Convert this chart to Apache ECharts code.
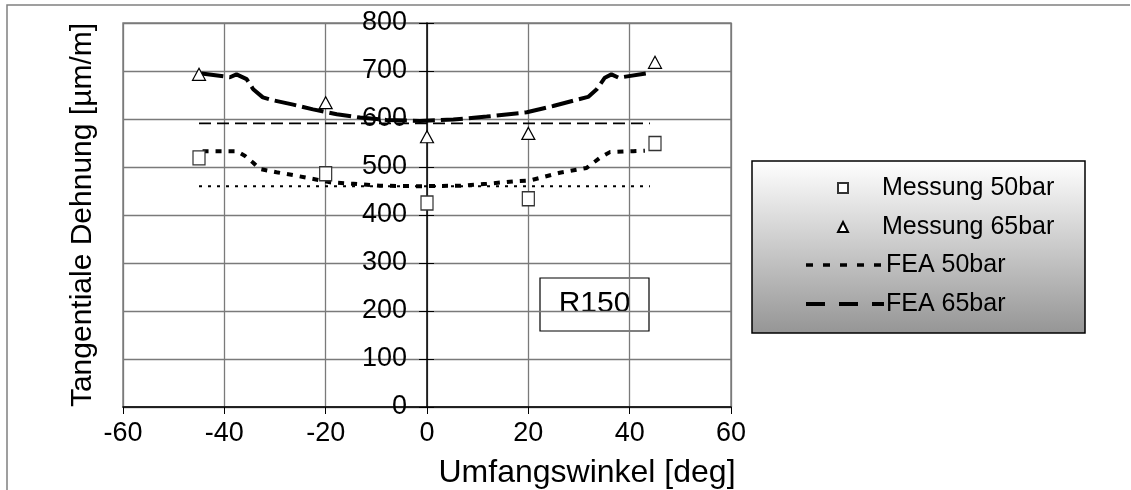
<!DOCTYPE html>
<html>
  <head>
    <meta charset="UTF-8" />
    <title>R150 Tangentiale Dehnung</title>
    <style>
      html, body { margin: 0; padding: 0; background: #fff; }
      #main { width: 1131px; height: 490px; }
    </style>
  </head>
  <body>
    <div id="main"></div>
    <script src="https://cdn.jsdelivr.net/npm/echarts@6/dist/echarts.min.js"></script>
    <script>
      // Messpunkte
      const messWinkel = [-45, -20, 0, 20, 45]
      const mess50 = [519, 486, 425, 434, 549]
      const mess65 = [693, 634, 563, 570, 718]

      // FEA 65bar
      const fea65Winkel = [-44.5, -41, -38.9, -37.6, -35.6, -34.3, -32.4, -30.4, -26.4, -22.5, -17.8, -13.2, -8, -1.4,
        5.2, 11.8, 19.7, 24.9, 29.5, 31.8, 33.5, 35.1, 36.4, 37.8, 43.4]
      const fea65 = [695, 690, 687, 693, 683, 662, 645, 639, 630, 620, 610, 603, 598, 596,
        599, 605, 614, 627, 640, 646, 662, 686, 693, 686, 695]

      // FEA 50bar
      const fea50Winkel = [-44.3, -40.9, -37.6, -35.9, -34.3, -33, -29.7, -26.4, -22.4, -19.1, -14.5, -9.3, -1.4,
        6.5, 11.8, 17, 20.3, 26.2, 31.5, 34.1, 36.1, 40.7, 43]
      const fea50 = [533, 533, 533, 523, 509, 496, 489, 483, 475, 468, 465, 461, 460,
        461, 465, 470, 472, 488, 498, 519, 531, 533, 534]

      // horizontale Referenzlinien
      const refWinkel = [-45, 44]
      const ref65 = [591, 591]
      const ref50 = [460, 460]

      const xTicks = [-60, -40, -20, 0, 20, 40, 60]
      const yTicks = [0, 100, 200, 300, 400, 500, 600, 700, 800]

      const zip = (xs, ys) => xs.map((x, i) => [x, ys[i]])
      const font = 'Liberation Sans, Arial, sans-serif'
      const legendText = { fontSize: 25, lineHeight: 28, fontFamily: font, color: '#000' }

      const myChart = echarts.init(document.getElementById('main'))
      const option = {
        animation: false,
        textStyle: { fontFamily: font, color: '#000' },
        grid: {
          left: 123, right: 400, top: 23, bottom: 83,
          containLabel: false, outerBoundsMode: 'none',
          show: true, borderColor: '#808080', borderWidth: 1.5,
        },
        graphic: [
          {
            type: 'polyline', z: 0,
            shape: { points: [[7, 495], [7, 5], [1130, 5]] },
            style: { stroke: '#808080', lineWidth: 1.5, fill: null },
          },
          {
            type: 'rect', z: 0,
            shape: { x: 752, y: 161, width: 333, height: 172 },
            style: {
              stroke: '#000', lineWidth: 1.5,
              fill: new echarts.graphic.LinearGradient(0, 0, 0, 1, [
                { offset: 0, color: '#ffffff' },
                { offset: 1, color: '#959595' },
              ]),
            },
          },
          {
            type: 'group', z: 10,
            children: [
              {
                type: 'rect',
                shape: { x: 540, y: 278, width: 109, height: 53 },
                style: { fill: '#fff', stroke: '#000', lineWidth: 1.2 },
              },
              {
                type: 'text',
                style: {
                  x: 594.5, y: 304, text: 'R150', fill: '#000',
                  font: '30px ' + font, align: 'center', verticalAlign: 'middle',
                },
              },
            ],
          },
        ],
        legend: [
          {
            orient: 'vertical',
            left: 832, top: 169,
            itemWidth: 10, itemHeight: 10, itemGap: 11,
            textStyle: Object.assign({ padding: [0, 0, 0, 29] }, legendText),
            data: ['Messung 50bar', 'Messung 65bar'],
          },
          {
            orient: 'vertical',
            left: 799, top: 246,
            itemWidth: 78, itemHeight: 10, itemGap: 11,
            textStyle: Object.assign({ padding: [0, 0, 0, -3] }, legendText),
            data: [
              { name: 'FEA 50bar', itemStyle: { opacity: 0 }, lineStyle: { width: 3.5, type: [7, 10] } },
              { name: 'FEA 65bar', itemStyle: { opacity: 0 }, lineStyle: { width: 4, type: [19, 14] } },
            ],
          },
        ],
        xAxis: {
          type: 'value', min: -60, max: 60, interval: 20,
          name: 'Umfangswinkel [deg]', nameLocation: 'middle', nameGap: 50,
          nameTextStyle: { fontSize: 32, padding: [0, 0, 0, 320], color: '#000' },
          axisLine: { onZero: false, lineStyle: { color: '#000', width: 1.5 } },
          axisTick: { length: 7, lineStyle: { color: '#000' } },
          axisLabel: {
            fontSize: 27, margin: 13, color: '#000',
            formatter: (v) => (xTicks.includes(v) ? String(v) : ''),
          },
          splitLine: { lineStyle: { color: '#7a7a7a', width: 1.3 } },
        },
        yAxis: [
          {
            type: 'value', min: 0, max: 800, interval: 100,
            position: 'left', offset: -304,
            name: 'Tangentiale Dehnung [\u00b5m/m]', nameLocation: 'middle', nameGap: 329,
            nameTextStyle: { fontSize: 30, color: '#000' },
            axisLine: { show: true, onZero: false, lineStyle: { color: '#000', width: 1.5 } },
            axisTick: { show: true, length: 8, lineStyle: { color: '#000' } },
            axisLabel: {
              fontSize: 27, margin: 20, color: '#000',
              formatter: (v) => (yTicks.includes(v) ? String(v) : ''),
            },
            splitLine: { lineStyle: { color: '#7a7a7a', width: 1.3 } },
          },
          {
            // zweite Achse nur fuer die nach innen zeigenden Striche
            type: 'value', min: 0, max: 800, interval: 100,
            position: 'left', offset: -304,
            axisLine: { show: false, onZero: false },
            axisTick: { show: true, inside: true, length: 7, lineStyle: { color: '#000' } },
            axisLabel: { show: false },
            splitLine: { show: false },
          },
        ],
        series: [
          {
            name: 'Referenz 65bar', type: 'line', data: zip(refWinkel, ref65),
            symbol: 'none', silent: true,
            lineStyle: { color: '#000', width: 1.8, type: [12, 6] },
          },
          {
            name: 'Referenz 50bar', type: 'line', data: zip(refWinkel, ref50),
            symbol: 'none', silent: true,
            lineStyle: { color: '#000', width: 2, type: [3, 6] },
          },
          {
            name: 'FEA 50bar', type: 'line', data: zip(fea50Winkel, fea50),
            symbol: 'none', itemStyle: { color: '#000' },
            lineStyle: { color: '#000', width: 4, type: [6, 7] },
          },
          {
            name: 'FEA 65bar', type: 'line', data: zip(fea65Winkel, fea65),
            symbol: 'none', itemStyle: { color: '#000' },
            lineStyle: { color: '#000', width: 4, type: [22, 6] },
          },
          {
            name: 'Messung 50bar', type: 'scatter', data: zip(messWinkel, mess50),
            symbol: 'rect', symbolSize: [12, 14], z: 5,
            itemStyle: { color: '#fff', borderColor: '#333', borderWidth: 1.3, opacity: 1 },
          },
          {
            name: 'Messung 65bar', type: 'scatter', data: zip(messWinkel, mess65),
            symbol: 'triangle', symbolSize: [13, 12], z: 5,
            itemStyle: { color: '#fff', borderColor: '#000', borderWidth: 1.2, opacity: 1 },
          },
        ],
      }
      myChart.setOption(option)
    </script>
  </body>
</html>
